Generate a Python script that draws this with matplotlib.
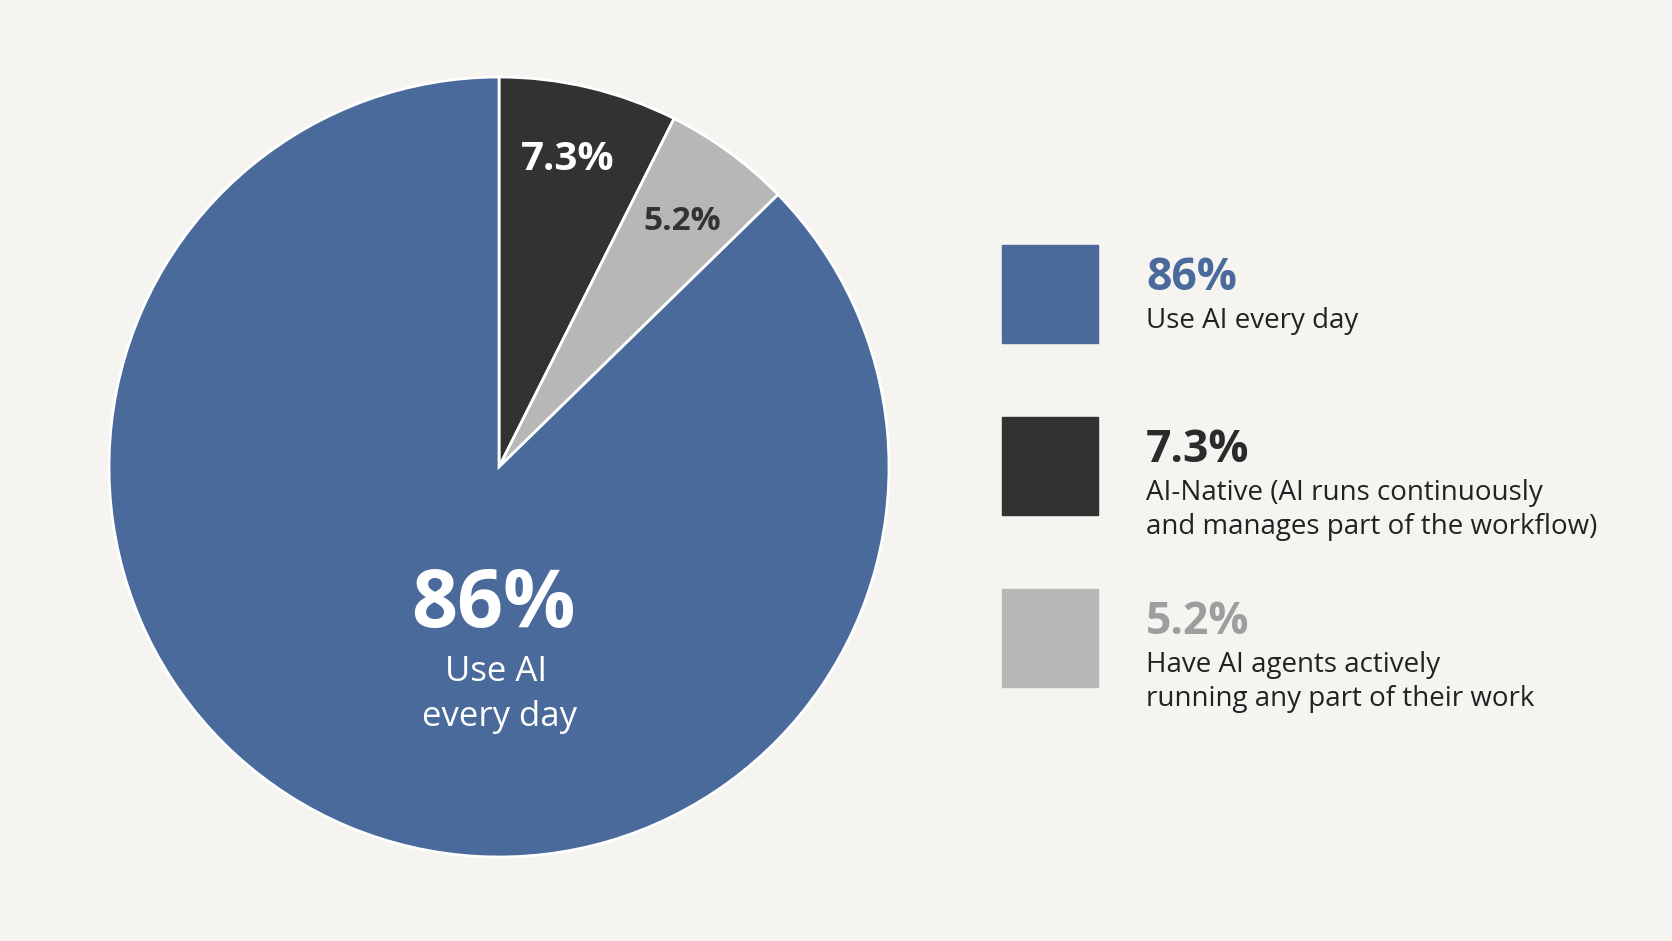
import matplotlib
matplotlib.use("Agg")
import matplotlib.pyplot as plt
from matplotlib.patches import Rectangle

plt.rcParams['font.family'] = ['Open Sans', 'DejaVu Sans']

values = [7.3, 5.2, 86]
labels = ["7.3%", "5.2%", "86%"]
descs = ["AI-Native (AI runs continuously\nand manages part of the workflow)",
         "Have AI agents actively\nrunning any part of their work",
         "Use AI every day"]
colors = ["#323232", "#b7b7b7", "#4a6a9b"]
head_colors = ["#2b2b2b", "#9e9e9e", "#4a6a9b"]

W, H = 1672, 941
fig = plt.figure(figsize=(W / 100, H / 100), dpi=100, facecolor="#f5f4f0")

def fx(x):
    return x / W

def fy(y):
    return 1 - y / H

cx, cy, r = 499, 467, 390
ax = fig.add_axes([fx(cx - r), fy(cy + r), 2 * r / W, 2 * r / H])
ax.pie(values, colors=colors, startangle=90, counterclock=False,
       wedgeprops=dict(edgecolor="white", linewidth=2))
ax.set_xlim(-1, 1)
ax.set_ylim(-1, 1)
ax.set_aspect("auto")
ax.axis("off")

fig.text(fx(568), fy(160), labels[0], color="white", fontsize=29, fontweight="bold", ha="center", va="center")
fig.text(fx(682), fy(222), labels[1], color="#333333", fontsize=24, fontweight="bold", ha="center", va="center")
fig.text(fx(493), fy(606), labels[2], color="white", fontsize=58, fontweight="bold", ha="center", va="center")
fig.text(fx(496), fy(672), "Use AI", color="white", fontsize=25, ha="center", va="center")
fig.text(fx(499), fy(717), "every day", color="white", fontsize=25, ha="center", va="center")

# legend, ordered blue, dark, gray
order = [2, 0, 1]
for row, i in enumerate(order):
    top = 245 + row * 172
    fig.patches.append(Rectangle((fx(1002), fy(top + 98)), 96 / W, 98 / H,
                                 transform=fig.transFigure, color=colors[i]))
    fig.text(fx(1146), fy(top + 33), labels[i], color=head_colors[i], fontsize=32,
             fontweight="bold", ha="left", va="center")
    fig.text(fx(1146), fy(top + 62), descs[i], color="#222222", fontsize=20,
             ha="left", va="top", linespacing=1.3)

fig.savefig("out.png", dpi=100, facecolor=fig.get_facecolor())
